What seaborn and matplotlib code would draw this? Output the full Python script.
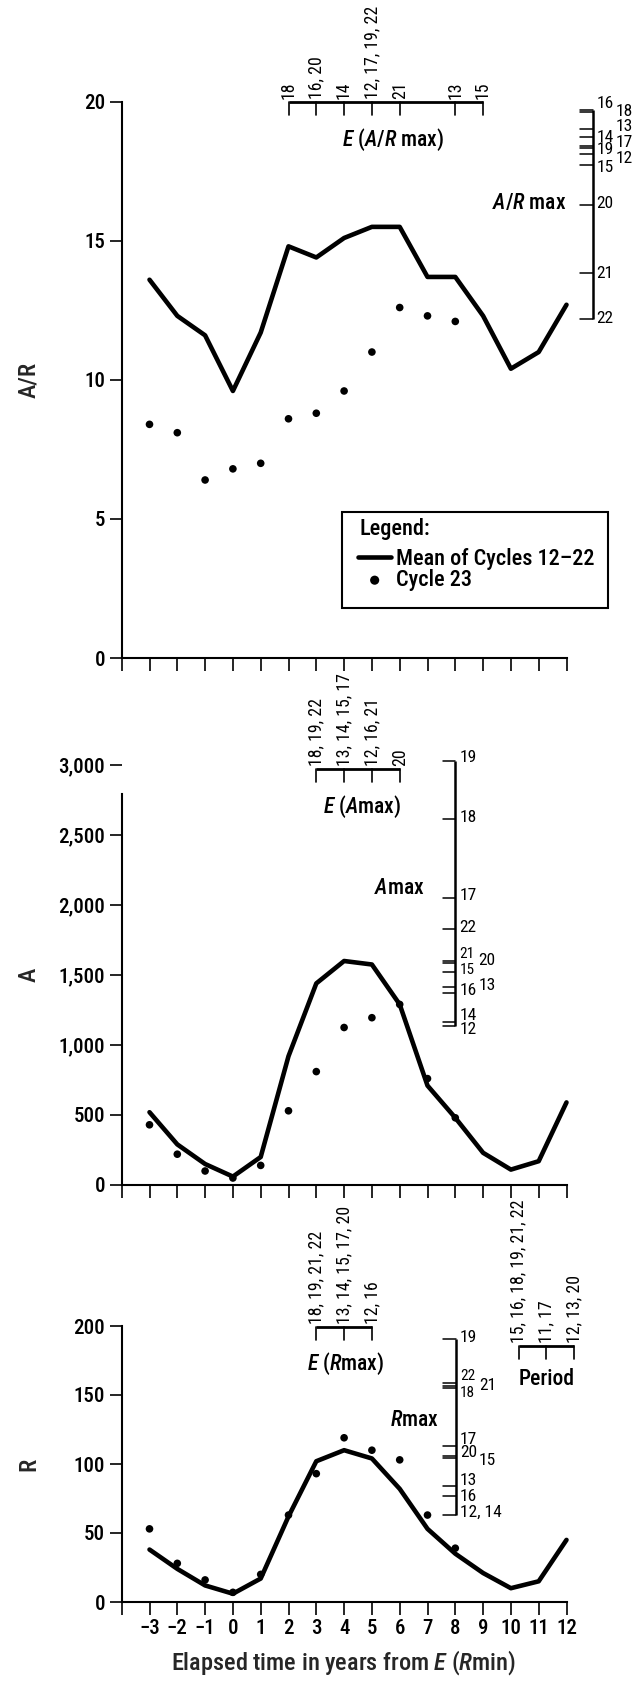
import matplotlib
matplotlib.use('Agg')
import matplotlib.pyplot as plt
import seaborn as sns
import pandas as pd
from matplotlib import font_manager
from matplotlib.patches import Rectangle
from matplotlib.ticker import FuncFormatter

# ---- data ----
years = list(range(-3, 13))
years_c23 = list(range(-3, 9))

ar_mean = [13.6, 12.3, 11.6, 9.6, 11.7, 14.8, 14.4, 15.1, 15.5, 15.5, 13.7, 13.7, 12.3, 10.4, 11.0, 12.7]
ar_c23 = [8.4, 8.1, 6.4, 6.8, 7.0, 8.6, 8.8, 9.6, 11.0, 12.6, 12.3, 12.1]

a_mean = [520, 290, 150, 60, 200, 920, 1440, 1600, 1575, 1290, 710, 480, 230, 110, 170, 590]
a_c23 = [430, 220, 100, 50, 140, 530, 810, 1125, 1195, 1290, 760, 480]

r_mean = [38, 24, 12, 6, 17, 62, 102, 110, 104, 82, 53, 35, 21, 10, 15, 45]
r_c23 = [53, 28, 16, 7, 20, 63, 93, 119, 110, 103, 63, 39]

# epoch of maximum (years from E(Rmin)) and the cycles peaking there
ar_peak_years = [2, 3, 4, 5, 6, 8, 9]
ar_peak_cycles = ['18', '16, 20', '14', '12, 17, 19, 22', '21', '13', '15']
a_peak_years = [3, 4, 5, 6]
a_peak_cycles = ['18, 19, 22', '13, 14, 15, 17', '12, 16, 21', '20']
r_peak_years = [3, 4, 5]
r_peak_cycles = ['18, 19, 21, 22', '13, 14, 15, 17, 20', '12, 16']
period_years = [10, 11, 12]
period_cycles = ['15, 16, 18, 19, 21, 22', '11, 17', '12, 13, 20']

# maximum value per cycle
ar_max_cycles = [16, 18, 13, 14, 17, 19, 12, 15, 20, 21, 22]
ar_max_vals = [19.70, 19.63, 19.02, 18.72, 18.42, 18.32, 18.11, 17.72, 16.27, 13.83, 12.2]
a_max_cycles = [19, 18, 17, 22, 21, 20, 15, 13, 16, 14, 12]
a_max_vals = [3029, 2614, 2048, 1826, 1600, 1583, 1524, 1412, 1369, 1167, 1136]
r_max_cycles = [19, 22, 21, 18, 17, 20, 15, 13, 16, 12, 14]
r_max_vals = [190.3, 158.5, 156.8, 155.1, 113.3, 105.8, 104.1, 84.3, 76.8, 62.8, 62.8]

# ---- style ----
sns.set_style('ticks')
names = {f.name for f in font_manager.fontManager.ttflist}
font = next((n for n in ['Liberation Sans Narrow', 'Roboto Condensed', 'Archivo Narrow', 'PT Sans Narrow',
                         'Liberation Sans'] if n in names), 'DejaVu Sans')
plt.rcParams['font.family'] = [font, 'DejaVu Sans']
plt.rcParams['font.weight'] = 'medium'
plt.rcParams['axes.labelweight'] = 'medium'
plt.rcParams['mathtext.fontset'] = 'custom'
plt.rcParams['mathtext.rm'] = font + ':medium'
plt.rcParams['mathtext.it'] = font + ':italic:medium'
plt.rcParams['text.color'] = 'black'

W, H = 636, 1684
X0, X1 = 121.7, 636.0
XLIM = (-4, 14.5)
UX = (XLIM[1] - XLIM[0]) / (X1 - X0)

fig = plt.figure(figsize=(W / 100, H / 100), dpi=100)


def make_axes(top, bottom):
    return fig.add_axes([X0 / W, 1 - bottom / H, (X1 - X0) / W, (bottom - top) / H])


panels = [(101.7, 658, 20), (765, 1185, 3000), (1326, 1602, 200)]
axes = [make_axes(t, b) for t, b, _ in panels]
units_y = [ymax / (b - t) for t, b, ymax in panels]

mean_df = pd.DataFrame({'year': years, 'A/R': ar_mean, 'A': a_mean, 'R': r_mean})
c23_df = pd.DataFrame({'year': years_c23, 'A/R': ar_c23, 'A': a_c23, 'R': r_c23})

for i, (ax, col) in enumerate(zip(axes, ['A/R', 'A', 'R'])):
    kw = {'label': 'Mean of Cycles 12\u201322'} if i == 0 else {}
    sns.lineplot(data=mean_df, x='year', y=col, ax=ax, color='black', lw=3.3, legend=False, **kw)
    kw = {'label': 'Cycle 23'} if i == 0 else {}
    sns.scatterplot(data=c23_df, x='year', y=col, ax=ax, color='black', s=30, edgecolor='none', legend=False, **kw)

    ymax = panels[i][2]
    ax.set_xlim(*XLIM)
    ax.set_ylim(0, ymax)
    sns.despine(ax=ax)
    for s in ['left', 'bottom']:
        ax.spines[s].set_linewidth(1.5)
        ax.spines[s].set_color('black')
    ax.spines['bottom'].set_bounds(-4, 12)
    ax.set_xticks(range(-4, 13))
    ax.tick_params(direction='out', length=9, width=1.2, labelsize=15, colors='black', pad=3)
    ax.set_xlabel('')
    ax.set_ylabel(col, fontsize=17.5)
    ax.yaxis.set_label_coords(-0.158, 0.5)
    if i < 2:
        ax.set_xticklabels([])

axes[0].set_yticks([0, 5, 10, 15, 20])
axes[1].set_yticks(range(0, 3001, 500))
axes[1].yaxis.set_major_formatter(FuncFormatter(lambda v, _: f'{int(v):,}'))
axes[1].spines['left'].set_bounds(0, 2790)
axes[2].set_yticks(range(0, 201, 50))
axes[2].xaxis.set_major_formatter(FuncFormatter(lambda v, _: '' if v == -4 else f'{int(v)}'.replace('-', '\u2212')))
axes[2].set_xlabel('Elapsed time in years from $E$ ($R$min)', fontsize=17.5)
axes[2].xaxis.set_label_coords(0.432, -0.221)
axes[2].xaxis.label.set_va('center')


def bracket(ax, uy, xs, labels, y, title=None, title_x=None, title_dy=38):
    ax.plot([xs[0], xs[-1]], [y, y], color='black', lw=2.0, clip_on=False, solid_capstyle='butt')
    for x, lab in zip(xs, labels):
        ax.plot([x, x], [y, y - 13 * uy], color='black', lw=1.2, clip_on=False)
        ax.text(x, y + 3 * uy, lab, rotation=90, ha='center', va='bottom', fontsize=12.8,
                fontweight='normal', clip_on=False)
    if title:
        ax.text(title_x, y - title_dy * uy, title, ha='center', va='center', fontsize=15.5, clip_on=False)


def vscale(ax, uy, x, cycles, vals, layout, title, title_x, title_y):
    ax.plot([x, x], [max(vals), min(vals)], color='black', lw=1.8, clip_on=False, solid_capstyle='butt')
    groups = {}
    for c, v in zip(cycles, vals):
        groups.setdefault(v, []).append(c)
    for v, cs in groups.items():
        ax.plot([x - 12.5 * UX, x], [v, v], color='black', lw=1.1, clip_on=False)
        dy, colpos, fs = layout[cs[0]]
        ax.text(x + (4 if colpos == 0 else 23) * UX, v - dy * uy, ', '.join(str(c) for c in sorted(cs)),
                ha='left', va='center', fontsize=fs, fontweight='normal', clip_on=False)
    ax.text(title_x, title_y, title, ha='right', va='center', fontsize=15.5, clip_on=False)


# label nudges in pixels (down positive), column, font size
ar_layout = {16: (-7, 0, 12.5), 18: (0, 1, 12.5), 13: (-2, 1, 12.5), 14: (0, 0, 12.5), 17: (-3, 1, 12.5),
             19: (1, 0, 12.5), 12: (4, 1, 12.5), 15: (2, 0, 12.5), 20: (-2, 0, 12.5), 21: (0, 0, 12.5),
             22: (0, 0, 12.5)}
a_layout = {19: (-3, 0, 12.5), 18: (-2, 0, 12.5), 17: (-3, 0, 12.5), 22: (-2, 0, 12.5), 21: (-7, 0, 11),
            20: (-3, 1, 12.5), 15: (-2, 0, 11), 13: (-2, 1, 12.5), 16: (-3, 0, 12.5), 14: (-6, 0, 12.5),
            12: (4, 0, 12.5)}
r_layout = {19: (-2, 0, 12.5), 22: (-7, 0, 11), 21: (0, 1, 12.5), 18: (5, 0, 11), 17: (-6, 0, 12.5),
            20: (-3, 0, 12.5), 15: (2, 1, 12.5), 13: (-5, 0, 12.5), 16: (0, 0, 12.5), 12: (-3, 0, 12.5)}

ax1, ax2, ax3 = axes
u1, u2, u3 = units_y

bracket(ax1, u1, ar_peak_years, ar_peak_cycles, 20, '$E$ ($A$/$R$ max)', 5.77)
vscale(ax1, u1, 12.94, ar_max_cycles, ar_max_vals, ar_layout, '$A$/$R$ max', 12.0, 16.36)

bracket(ax2, u2, a_peak_years, a_peak_cycles, 2969, '$E$ ($A$max)', 4.63)
vscale(ax2, u2, 8.0, a_max_cycles, a_max_vals, a_layout, '$A$max', 6.91, 2121)

bracket(ax3, u3, r_peak_years, r_peak_cycles, 199, '$E$ ($R$max)', 4.06, 37)
vscale(ax3, u3, 8.02, r_max_cycles, r_max_vals, r_layout, '$R$max', 7.39, 132)
period_x = [p + 0.28 for p in period_years]
bracket(ax3, u3, period_x, period_cycles, 185.6, 'Period', period_x[1], 33)

# legend: framed box with a title line, entries from the plotted artists
ax1.add_patch(Rectangle((3.94, 1.81), 9.56, 3.43, facecolor='white', edgecolor='black', lw=1.5,
                        clip_on=False, zorder=4))
ax1.text(4.54, 4.64, 'Legend:', ha='left', va='center', fontsize=16, zorder=6)
leg = ax1.legend(loc='upper left', bbox_to_anchor=(4.50, 3.95), bbox_transform=ax1.transData,
                 frameon=False, fontsize=16, borderaxespad=0, borderpad=0, handlelength=1.5,
                 handletextpad=0.2, labelspacing=-0.05, markerscale=1.2)
leg.set_zorder(6)

fig.savefig('out.png', dpi=100)
